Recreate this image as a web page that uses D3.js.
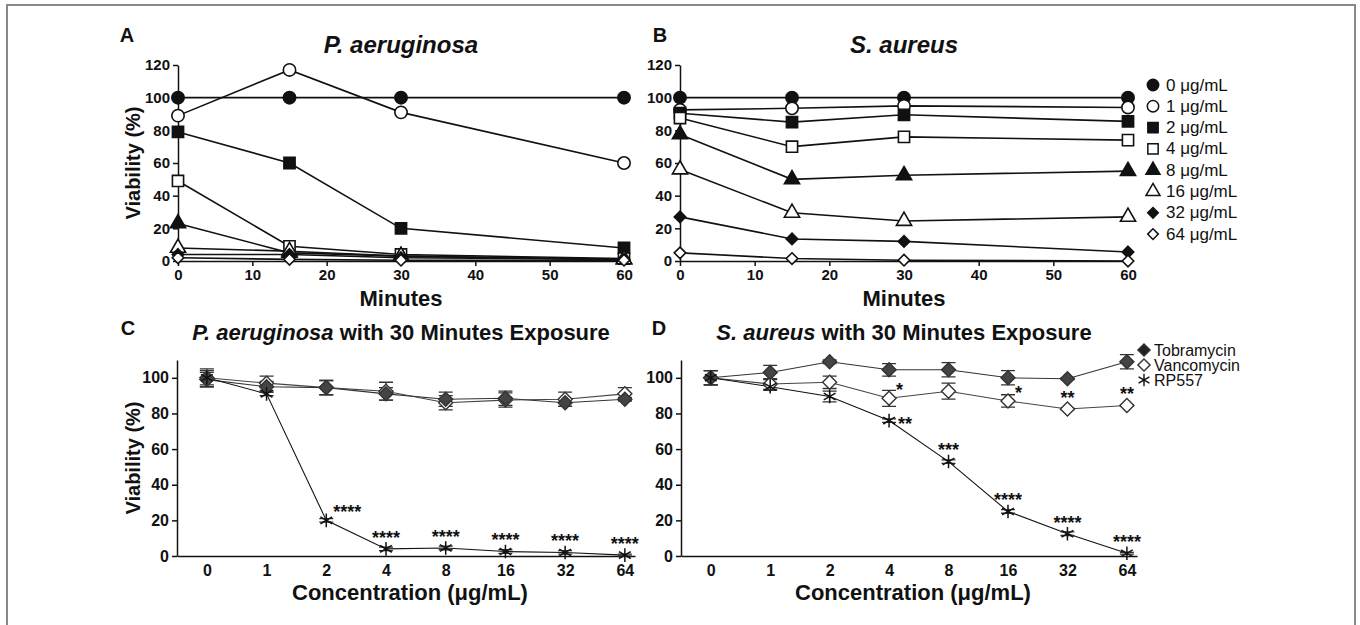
<!DOCTYPE html>
<html>
<head>
<meta charset="utf-8">
<script src="https://cdn.jsdelivr.net/npm/d3@7"></script>
<style>
body { margin: 0; background: #fff; }
text { font-family: "Liberation Sans", Arial, sans-serif; fill: #111; }
.axis path, .axis line { stroke: #111; stroke-width: 1.5; }
.axis text { font-weight: bold; font-size: 15px; fill: #111; }
.axis.bottom text { font-size: 16px; }
</style>
</head>
<body>
<div id="chart"></div>
<script>
// ---- data: % viability ----
var minutes = [0, 15, 30, 60];
var doseLabels = ["0 μg/mL", "1 μg/mL", "2 μg/mL", "4 μg/mL", "8 μg/mL", "16 μg/mL", "32 μg/mL", "64 μg/mL"];

// P. aeruginosa, one row per dose, one value per time point
var paTime = [
    [100, 100, 100, 100],
    [89, 117, 91, 60],
    [79, 60, 20, 8],
    [49, 9, 4, 1.5],
    [23, 5, 3, 1],
    [8, 6, 3, 1],
    [4, 4, 2, 1],
    [2, 1, 0.5, 0.5]
];
// S. aureus
var saTime = [
    [100, 100, 100, 100],
    [92.5, 93.5, 95, 94],
    [90.5, 85, 89.5, 85.5],
    [87.5, 70, 76, 74],
    [77.5, 50, 52.5, 55],
    [56, 29.5, 24.5, 27],
    [27, 13.5, 12, 5.5],
    [5, 1.5, 0.5, 0]
];

var concLabels = ["0", "1", "2", "4", "8", "16", "32", "64"];
var drugNames = ["Tobramycin", "Vancomycin", "RP557"];

// 30 minute exposure, P. aeruginosa
var paTobra = [99, 95, 94.5, 91, 88, 88.5, 86, 88];
var paTobraErr = [4, 3, 4, 3.5, 4, 4, 2, 1];
var paVanco = [100, 97, 94.5, 92.5, 86, 87.5, 88, 91];
var paVancoErr = [5, 4, 4, 5, 4, 4, 4, 3.5];
var paRp = [100, 91, 20, 4, 4.5, 2.5, 2, 0.5];
var paRpErr = [4, 1, 1, 1, 1, 1, 1, 0.5];
var paStars = [
    { drug: 2, i: 2, text: "****", place: "upright" },
    { drug: 2, i: 3, text: "****", place: "above" },
    { drug: 2, i: 4, text: "****", place: "above" },
    { drug: 2, i: 5, text: "****", place: "above" },
    { drug: 2, i: 6, text: "****", place: "above" },
    { drug: 2, i: 7, text: "****", place: "above" }
];

// 30 minute exposure, S. aureus
var saTobra = [100, 103, 109, 104.5, 104.5, 100, 99.5, 109];
var saTobraErr = [4, 4, 1, 3.5, 4, 4, 0.5, 4];
var saVanco = [100, 96.5, 97.5, 88.5, 92.5, 87, 82.5, 84.5];
var saVancoErr = [4, 3, 3.5, 4.5, 4.5, 3.5, 0.5, 0.5];
var saRp = [100, 95, 89.5, 76, 53, 25, 12.5, 1.5];
var saRpErr = [4, 2, 3, 1, 1, 1, 1, 0.5];
var saStars = [
    { drug: 1, i: 3, text: "*", place: "upright" },
    { drug: 1, i: 5, text: "*", place: "upright" },
    { drug: 1, i: 6, text: "**", place: "above" },
    { drug: 1, i: 7, text: "**", place: "above" },
    { drug: 2, i: 3, text: "**", place: "right" },
    { drug: 2, i: 4, text: "***", place: "above" },
    { drug: 2, i: 5, text: "****", place: "above" },
    { drug: 2, i: 6, text: "****", place: "above" },
    { drug: 2, i: 7, text: "****", place: "above" }
];

// ---- layout ----
var width = 1360;
var height = 625;

var svg = d3.select("#chart")
    .append("svg")
    .attr("width", width)
    .attr("height", height);

// figure frame
svg.append("rect")
    .attr("x", 7).attr("y", 5)
    .attr("width", 1348).attr("height", 700)
    .attr("fill", "none")
    .attr("stroke", "#888")
    .attr("stroke-width", 2);

// marker shapes for the dose series
var doseShape = [d3.symbolCircle, d3.symbolCircle, d3.symbolSquare, d3.symbolSquare,
                 d3.symbolTriangle, d3.symbolTriangle, d3.symbolDiamond2, d3.symbolDiamond2];
var doseSize = [120, 120, 125, 125, 100, 100, 85, 85];

function text(x, y, str, size, opts) {
    opts = opts || {};
    return svg.append("text")
        .attr("x", x).attr("y", y)
        .attr("text-anchor", opts.anchor || "middle")
        .attr("font-size", size)
        .attr("font-weight", opts.weight || "bold")
        .attr("font-style", opts.style || "normal")
        .text(str);
}

// ---- top panels: time course ----
var yTop = d3.scaleLinear().domain([0, 120]).range([261, 65]);
var xA = d3.scaleLinear().domain([0, 60]).range([178, 624]);
var xB = d3.scaleLinear().domain([0, 60]).range([680, 1128]);

function timePanel(xS, data) {
    svg.append("g")
        .attr("class", "axis")
        .attr("transform", "translate(0," + yTop(0) + ")")
        .call(d3.axisBottom(xS).tickValues([0, 10, 20, 30, 40, 50, 60])
            .tickSize(5).tickPadding(3).tickSizeOuter(0));
    svg.append("g")
        .attr("class", "axis")
        .attr("transform", "translate(" + xS(0) + ",0)")
        .call(d3.axisLeft(yTop).tickValues([0, 20, 40, 60, 80, 100, 120])
            .tickSize(5).tickPadding(3).tickSizeOuter(0));

    var line = d3.line()
        .x(function (d, i) { return xS(minutes[i]); })
        .y(function (d) { return yTop(d); });

    var g = svg.append("g");
    data.forEach(function (vals) {
        g.append("path")
            .attr("d", line(vals))
            .attr("fill", "none")
            .attr("stroke", "#111")
            .attr("stroke-width", 1.6);
    });
    data.forEach(function (vals, k) {
        var sym = d3.symbol().type(doseShape[k]).size(doseSize[k]);
        g.selectAll(null)
            .data(vals)
            .enter()
            .append("path")
            .attr("d", sym)
            .attr("transform", function (d, i) { return "translate(" + xS(minutes[i]) + "," + yTop(d) + ")"; })
            .attr("fill", k % 2 === 0 ? "#111" : "#fff")
            .attr("stroke", "#111")
            .attr("stroke-width", 1.6);
    });
    text((xS(0) + xS(60)) / 2, 306, "Minutes", 22);
}

timePanel(xA, paTime);
timePanel(xB, saTime);

text(127, 42, "A", 20);
text(660, 42, "B", 20);
text(401, 53, "P. aeruginosa", 24, { style: "italic" });
text(904, 53, "S. aureus", 24, { style: "italic" });
svg.append("text")
    .attr("transform", "translate(140," + yTop(60) + ") rotate(-90)")
    .attr("text-anchor", "middle")
    .attr("font-size", 20)
    .attr("font-weight", "bold")
    .text("Viability (%)");

// dose legend
doseLabels.forEach(function (lab, k) {
    var ly = 85 + k * 21.3;
    svg.append("path")
        .attr("d", d3.symbol().type(doseShape[k]).size(doseSize[k] * 0.85))
        .attr("transform", "translate(1153," + ly + ")")
        .attr("fill", k % 2 === 0 ? "#111" : "#fff")
        .attr("stroke", "#111")
        .attr("stroke-width", 1.5);
    text(1166, ly, lab, 17, { anchor: "start", weight: "normal" })
        .attr("dominant-baseline", "central");
});

// ---- bottom panels: 30 minute exposure ----
var yBot = d3.scaleLinear().domain([0, 110]).range([556, 360]);
var xC = d3.scaleLinear().domain([-0.5, 7.17]).range([177, 635]);
var xD = d3.scaleLinear().domain([-0.5, 7.17]).range([681, 1137]);

var drugShape = [d3.symbolDiamond2, d3.symbolDiamond2, d3.symbolAsterisk];
var drugFill = ["#444", "#fff", "none"];
var drugStroke = ["#333", "#333", "#111"];
var drugLine = ["#333", "#444", "#111"];

function concPanel(xS, vals, errs, stars) {
    svg.append("g")
        .attr("class", "axis bottom")
        .attr("transform", "translate(0," + yBot(0) + ")")
        .call(d3.axisBottom(xS).tickValues(d3.range(8))
            .tickFormat(function (i) { return concLabels[i]; })
            .tickSize(0).tickPadding(9));
    svg.append("g")
        .attr("class", "axis bottom")
        .attr("transform", "translate(" + xS.range()[0] + ",0)")
        .call(d3.axisLeft(yBot).tickValues([0, 20, 40, 60, 80, 100])
            .tickSize(5).tickPadding(3).tickSizeOuter(0));

    var g = svg.append("g");
    var line = d3.line()
        .x(function (d, i) { return xS(i); })
        .y(function (d) { return yBot(d); });

    vals.forEach(function (v, k) {
        g.append("path")
            .attr("d", line(v))
            .attr("fill", "none")
            .attr("stroke", drugLine[k])
            .attr("stroke-width", 1.1);
    });
    // error bars
    vals.forEach(function (v, k) {
        v.forEach(function (d, i) {
            var e = errs[k][i];
            var x = xS(i);
            g.append("path")
                .attr("d", "M" + x + "," + yBot(d - e) + "V" + yBot(d + e) +
                    "M" + (x - 7) + "," + yBot(d + e) + "H" + (x + 7) +
                    "M" + (x - 7) + "," + yBot(d - e) + "H" + (x + 7))
                .attr("fill", "none")
                .attr("stroke", "#333")
                .attr("stroke-width", 1.3);
        });
    });
    // markers: vancomycin, tobramycin, then RP557 on top
    [1, 0, 2].forEach(function (k) {
        var sym = d3.symbol().type(drugShape[k]).size(k === 2 ? 130 : 125);
        g.selectAll(null)
            .data(vals[k])
            .enter()
            .append("path")
            .attr("d", sym)
            .attr("transform", function (d, i) { return "translate(" + xS(i) + "," + yBot(d) + ")"; })
            .attr("fill", drugFill[k])
            .attr("stroke", drugStroke[k])
            .attr("stroke-width", k === 2 ? 1.5 : 1.4);
    });
    // significance marks
    stars.forEach(function (s) {
        var px = xS(s.i);
        var py = yBot(vals[s.drug][s.i]);
        var fs = 18;
        var t;
        if (s.place === "above") {
            t = text(px, py - 15 + fs * 0.55, s.text, fs);
        } else if (s.place === "upright") {
            t = text(px + 7, py - 12 + fs * 0.55, s.text, fs, { anchor: "start" });
        } else {
            t = text(px + 9, py + fs * 0.55, s.text, fs, { anchor: "start" });
        }
    });
    text((xS.range()[0] + xS.range()[1]) / 2 + 4, 600, "Concentration (μg/mL)", 22);
}

concPanel(xC, [paTobra, paVanco, paRp], [paTobraErr, paVancoErr, paRpErr], paStars);
concPanel(xD, [saTobra, saVanco, saRp], [saTobraErr, saVancoErr, saRpErr], saStars);

text(128, 335, "C", 20);
text(659, 335, "D", 20);

var cTitle = text(401, 340, "", 22);
cTitle.append("tspan").attr("font-style", "italic").text("P. aeruginosa");
cTitle.append("tspan").text(" with 30 Minutes Exposure");
var dTitle = text(904, 340, "", 22);
dTitle.append("tspan").attr("font-style", "italic").text("S. aureus");
dTitle.append("tspan").text(" with 30 Minutes Exposure");

svg.append("text")
    .attr("transform", "translate(140," + yBot(55) + ") rotate(-90)")
    .attr("text-anchor", "middle")
    .attr("font-size", 20)
    .attr("font-weight", "bold")
    .text("Viability (%)");

// drug legend
drugNames.forEach(function (name, k) {
    var ly = 350 + k * 15;
    svg.append("path")
        .attr("d", d3.symbol().type(drugShape[k]).size(k === 2 ? 110 : 95))
        .attr("transform", "translate(1144," + ly + ")")
        .attr("fill", drugFill[k] === "#444" ? "#222" : drugFill[k])
        .attr("stroke", drugStroke[k])
        .attr("stroke-width", 1.4);
    text(1154, ly, name, 16, { anchor: "start", weight: "normal" })
        .attr("dominant-baseline", "central");
});
</script>
</body>
</html>
